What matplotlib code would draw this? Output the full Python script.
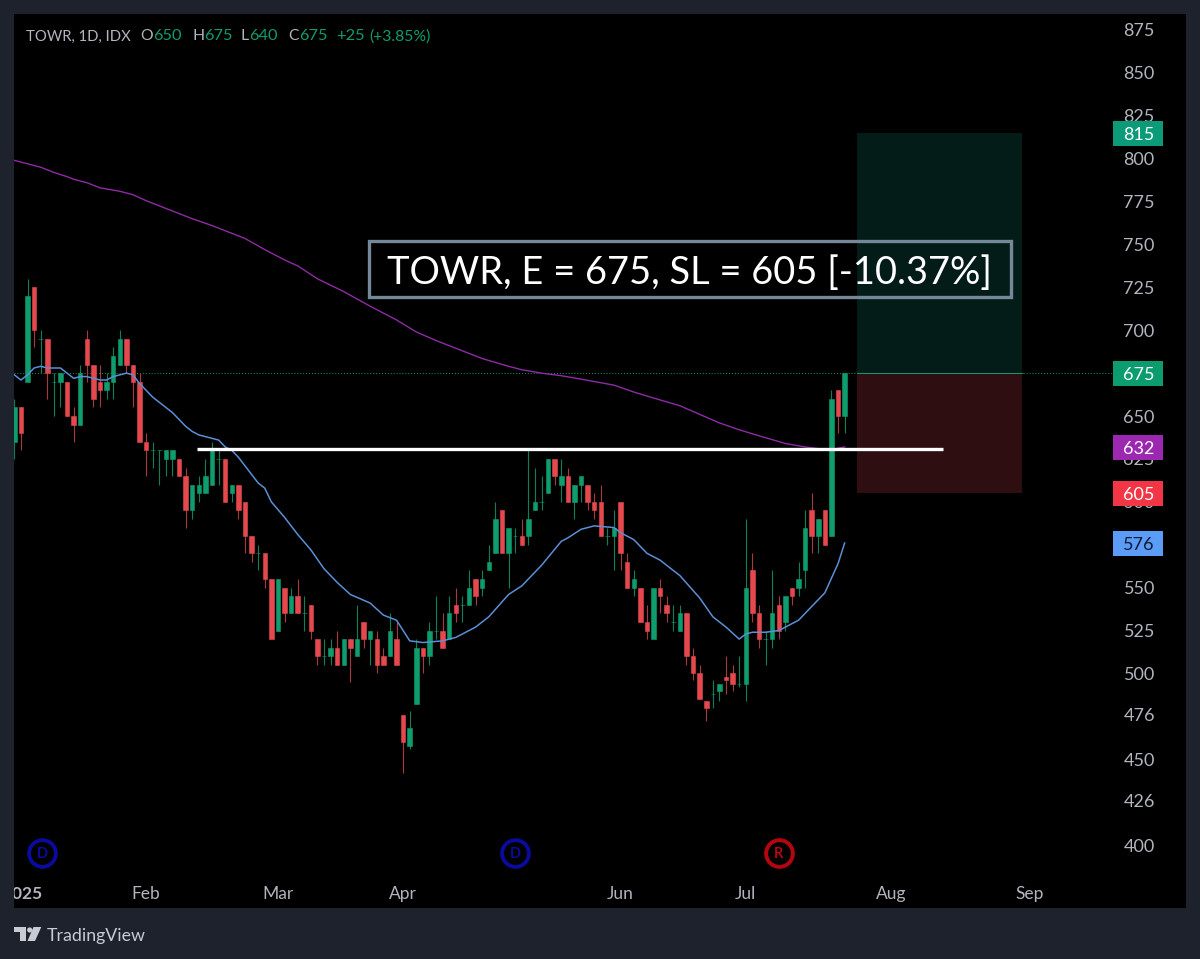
import matplotlib
matplotlib.use('Agg')
import matplotlib.pyplot as plt
from matplotlib.patches import Rectangle, Polygon, Circle

opens = [635, 655, 670, 725, 695, 695, 670, 670, 670, 650,
         645, 695, 680, 670, 665, 670, 680, 695, 680, 670,
         635, 630, 630, 625, 625, 625, 615, 595, 605, 605,
         610, 625, 625, 605, 610, 600, 580, 570, 570, 555,
         525, 550, 535, 545, 535, 540, 520, 510, 510, 515,
         505, 520, 510, 530, 520, 520, 510, 510, 520, 476,
         458, 482, 515, 510, 525, 525, 520, 540, 540, 540,
         555, 550, 560, 570, 595, 570, 580, 580, 580, 595,
         600, 605, 625, 610, 615, 600, 610, 610, 600, 600,
         580, 580, 600, 565, 550, 550, 530, 520, 550, 540,
         530, 525, 535, 510, 500, 484, 488, 490, 498, 500,
         494, 494, 560, 535, 520, 520, 540, 530, 550, 550,
         560, 595, 580, 595, 580, 665, 650]
closes = [655, 640, 720, 700, 695, 675, 670, 675, 650, 645,
          675, 680, 660, 665, 670, 685, 695, 680, 670, 635,
          630, 630, 630, 630, 630, 615, 595, 610, 610, 615,
          630, 625, 600, 610, 595, 580, 570, 570, 555, 520,
          555, 535, 545, 535, 535, 525, 510, 510, 515, 505,
          520, 515, 520, 520, 525, 505, 505, 525, 505, 460,
          468, 515, 510, 525, 525, 515, 535, 535, 540, 550,
          545, 555, 565, 590, 570, 585, 580, 575, 590, 600,
          600, 625, 615, 615, 600, 610, 615, 600, 595, 580,
          580, 585, 570, 550, 555, 530, 525, 550, 545, 535,
          530, 535, 510, 500, 485, 480, 488, 494, 496, 494,
          494, 550, 535, 520, 520, 535, 525, 545, 545, 555,
          585, 580, 590, 575, 660, 650, 675]
highs = [660, 655, 730, 725, 700, 695, 675, 675, 670, 655,
         680, 700, 680, 680, 675, 690, 700, 695, 680, 675,
         640, 635, 630, 630, 630, 625, 620, 610, 615, 625,
         635, 630, 625, 610, 610, 600, 580, 575, 570, 555,
         555, 550, 550, 555, 545, 540, 520, 520, 520, 525,
         520, 520, 540, 530, 525, 525, 515, 535, 530, 476,
         478, 520, 515, 530, 545, 535, 545, 550, 545, 560,
         555, 560, 575, 600, 595, 585, 585, 590, 630, 620,
         615, 625, 625, 625, 620, 610, 615, 610, 605, 610,
         585, 595, 600, 570, 560, 550, 540, 550, 555, 545,
         540, 540, 535, 515, 505, 484, 496, 494, 510, 505,
         510, 590, 570, 540, 525, 560, 545, 545, 550, 565,
         595, 605, 590, 595, 665, 665, 675]
lows = [625, 630, 670, 690, 675, 660, 650, 655, 650, 635,
        645, 670, 655, 655, 660, 660, 680, 675, 655, 635,
        615, 620, 610, 615, 615, 615, 585, 590, 600, 605,
        610, 610, 600, 600, 590, 570, 565, 560, 550, 520,
        525, 530, 535, 535, 525, 520, 505, 505, 505, 505,
        505, 495, 510, 515, 505, 500, 505, 510, 505, 442,
        456, 482, 500, 505, 520, 515, 520, 530, 530, 540,
        540, 545, 560, 570, 570, 550, 570, 575, 575, 595,
        595, 605, 610, 600, 600, 590, 600, 595, 590, 580,
        575, 560, 560, 550, 545, 530, 520, 520, 535, 530,
        525, 525, 505, 496, 485, 472, 480, 484, 488, 490,
        492, 484, 530, 515, 505, 515, 520, 525, 540, 545,
        550, 570, 570, 575, 580, 640, 640]

# blue moving average, read at these bars
ma_fast_bars = [0, 1, 2, 3, 4, 5, 6, 7, 8, 9, 10, 11, 12, 13, 14, 15, 16, 17, 18, 19,
                20, 21, 22, 23, 24, 25, 26, 27, 28, 29, 30, 31, 32, 33, 34, 35, 36, 37, 38, 39,
                41, 43, 45, 47, 49, 51, 54, 56, 58, 60, 62, 65, 67, 70, 72, 75, 77, 80, 83, 84,
                86, 88, 91, 92, 94, 96, 98, 101, 104, 106, 108, 110, 111, 112, 114, 116, 119, 121,
                123, 125, 126]
ma_fast = [674, 671, 674, 678, 679, 678, 678, 678, 675, 672, 673, 673, 672, 671, 671, 673, 674, 675, 674, 669,
           665, 661, 658, 655, 652, 648, 644, 641, 639, 638, 637, 636, 632, 630, 626, 621, 616, 611, 608, 600,
           591, 581, 572, 561, 553, 546, 541, 534, 531, 519, 518, 519, 521, 527, 533, 546, 551, 563, 577, 579,
           584, 586, 585, 582, 578, 570, 566, 557, 544, 533, 527, 520, 523, 524, 524, 525, 531, 539,
           547, 564, 576]
# purple moving average
ma_slow_bars = [0, 2, 4, 6, 8, 9, 11, 13, 16, 18, 20, 22, 25, 27, 30, 32, 35, 38, 41, 43,
                46, 50, 54, 58, 61, 64, 68, 71, 75, 77, 80, 83, 86, 91, 94, 97, 101, 104, 107, 110,
                113, 117, 120, 123, 124, 126]
ma_slow = [799, 797, 795, 792, 789.5, 788, 786, 783, 781, 779, 775.5, 772.5, 768, 765, 761, 758, 753.5, 747, 741, 737.5,
           730, 722.5, 714, 706, 699, 694, 688, 683.5, 679, 677, 675, 673.5, 671.5, 668, 664, 660.5, 656, 651, 646, 642,
           638.5, 634, 632, 630.5, 630.5, 632]

y_ticks = [875, 850, 825, 800, 775, 750, 725, 700, 650, 625, 600, 550, 525, 500, 476, 450, 426, 400]
x_tick_pos = [1.2, 20, 40, 59, 92, 111, 133, 154]
x_tick_labels = ['2025', 'Feb', 'Mar', 'Apr', 'Jun', 'Jul', 'Aug', 'Sep']
last_price = 675
stop_loss = 605
target = 815
breakout = 631

BG = '#1e222d'
GREEN = '#0f9d6e'
RED = '#e5484d'
GREEN_WICK = '#0b8059'
RED_WICK = '#a83a3f'
GREY = '#b2b5be'
FONT = 'Lato'

plt.rcParams['font.family'] = FONT

fig = plt.figure(figsize=(12, 9.59), dpi=100, facecolor=BG)
ax = fig.add_axes([14 / 1200, 51 / 959, 1172 / 1200, 894 / 959], facecolor='black')
ax.set_xlim(-0.05, 177.8)
ax.set_ylim(363.3, 884.3)
for s in ax.spines.values():
    s.set_visible(False)

# position boxes
ax.add_patch(Rectangle((127.9, last_price), 25, target - last_price, fc='#041c18', ec='none', zorder=1))
ax.add_patch(Rectangle((127.9, stop_loss), 25, last_price - stop_loss, fc='#2e0e10', ec='none', zorder=1))
ax.plot([127.9, 152.9], [last_price, last_price], color='#0f9d6e', lw=0.7, zorder=1.2)
ax.axhline(last_price, xmax=0.938, color='#0f9d6e', lw=0.7, ls=(0, (1, 2)), zorder=1.1)

# candles
for i in range(len(opens)):
    up = closes[i] >= opens[i]
    ax.vlines(i, lows[i], highs[i], color=GREEN_WICK if up else RED_WICK, lw=0.8, zorder=2)
    ax.bar(i, abs(closes[i] - opens[i]), bottom=min(opens[i], closes[i]), width=0.68,
           color=GREEN if up else RED, edgecolor=GREEN if up else RED, lw=0.4, zorder=3)

ax.plot(ma_slow_bars, ma_slow, color='#8e2ba5', lw=1.0, zorder=4)
ax.plot(ma_fast_bars, ma_fast, color='#5b8fd6', lw=1.1, zorder=4)
ax.plot([27.7, 141], [breakout, breakout], color='white', lw=2.4, solid_capstyle='butt', zorder=5)

# axis labels
ax.yaxis.tick_right()
ax.set_yticks(y_ticks)
ax.set_yticklabels([str(v) for v in y_ticks])
ax.tick_params(axis='y', length=0, pad=-45, labelsize=13, labelcolor=GREY)
ax.set_xticks(x_tick_pos)
ax.set_xticklabels(x_tick_labels)
ax.tick_params(axis='x', length=0, pad=-16, labelsize=12.5, labelcolor=GREY)
first = ax.get_xticklabels()[0]
first.set_fontweight('bold')
first.set_clip_on(True)
first.set_clip_box(ax.bbox)

# price tags on the scale
tags = [(815, '#0b9b78', 'white'), (675, '#0d9c6e', 'white'), (632, '#9c27b0', 'white'),
        (605, '#f23645', 'white'), (576, '#5b9cf6', '#0f1a33')]
tr = ax.get_yaxis_transform()
for price, col, tcol in tags:
    ax.add_patch(Rectangle(((1113 - 14) / 1172, price - 7.6), 50 / 1172, 14.6, transform=tr,
                           fc=col, ec='none', zorder=6))
    ax.text((1139 - 14) / 1172, price - 0.4, str(price), transform=tr, color=tcol, fontsize=13,
            ha='center', va='center_baseline', zorder=7)

# event badges
for bar, letter, col in [(4.2, 'D', '#0a0a9c'), (76, 'D', '#0a0a9c'), (116, 'R', '#b5060f')]:
    ax.scatter([bar], [395.4], s=370, facecolor='black', edgecolor=col, lw=2.8, zorder=6)
    ax.text(bar, 395.4, letter, color=col, fontsize=10.5, fontweight='bold',
            ha='center', va='center_baseline', zorder=7)

# overlay in picture pixels for header, note box and logo
ov = fig.add_axes([0, 0, 1, 1], facecolor='none')
ov.set_xlim(0, 1200)
ov.set_ylim(959, 0)
ov.axis('off')

ov.add_patch(Rectangle((368.5, 240.5), 642, 56, fc='none', ec='#75889a', lw=2.4))
ov.text(689.5, 269, 'TOWR, E = 675, SL = 605 [-10.37%]', color='white', fontsize=27.4,
        ha='center', va='center_baseline')

header = [(26, 'TOWR, 1D, IDX', GREY, 10.7), (140, 'O', GREY, 11.3), (153, '650', GREEN, 11.8), (192, 'H', GREY, 11.3),
          (204, '675', GREEN, 11.8), (241, 'L', GREY, 11.3), (249, '640', GREEN, 11.8), (288, 'C', GREY, 11.3),
          (299, '675', GREEN, 11.8), (336, '+25', GREEN, 11.8), (369, '(+3.85%)', GREEN, 11.3)]
for x, s, col, size in header:
    ov.text(x, 35, s, color=col, fontsize=size, ha='left', va='center_baseline')

# TradingView logo
logo = '#c8cbd3'
ov.add_patch(Polygon([(14, 927), (26, 927), (26, 941), (20, 941), (20, 932), (14, 932)], fc=logo, ec='none'))
ov.add_patch(Circle((29.7, 930), 2.6, fc=logo, ec='none'))
ov.add_patch(Polygon([(33.5, 927), (41.3, 927), (35, 941), (27.5, 941)], fc=logo, ec='none'))
ov.text(47, 935, 'TradingView', color=logo, fontsize=12.8, ha='left', va='center_baseline')

fig.savefig('out.png', dpi=100, facecolor=BG)
